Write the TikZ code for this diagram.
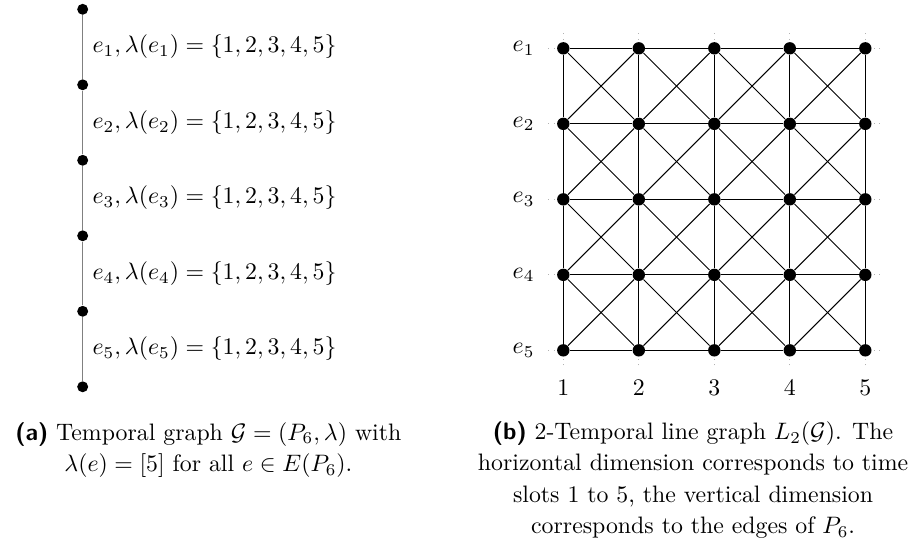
\documentclass[tikz,border=0pt]{standalone}
\usepackage{amsmath,amssymb}
\usetikzlibrary{positioning,calc}

\tikzset{
  vtx/.style={circle,fill=black,inner sep=0pt,minimum size=4.6pt},
  gvtx/.style={circle,fill=black,inner sep=0pt,minimum size=5.2pt},
  capt/.style={align=center,font={\fontsize{10pt}{13.2pt}\selectfont}},
}

\begin{document}
\begin{tikzpicture}[x=1.115cm,y=1.115cm]
  \useasboundingbox (0,0) rectangle (12.159,-7.219);
  % (a) the path P_6 with its labels
  \foreach \k in {1,...,6}
    \node[vtx] (v\k) at (1.095,{-0.123-(\k-1)}) {};
  \foreach \k/\n in {1/2,2/3,3/4,4/5,5/6} {
    \draw[gray,line width=0.6pt] (v\k) -- (v\n);
    \node[anchor=west] (l\k) at ($(v\k)!0.5!(v\n)+(0.02,0)$)
      {$e_{\k}, \lambda(e_{\k}) = \{1,2,3,4,5\}$};
  }
  % (b) the 2-temporal line graph, dotted grid behind
  \draw[gray!60,dotted,shift={(7.461,-0.64)},step=1.115cm] (-0.2,0.2) grid (4.2,-4.2);
  \foreach \i in {1,...,5}
    \foreach \j in {1,...,5}
      \node[gvtx] (g\i\j) at ({7.461+\i-1},{-0.64-(\j-1)}) {};
  \foreach \j in {1,...,5} {
    \node[anchor=east] (r\j) at (7.19,{-0.64-(\j-1)}) {$e_{\j}$};
    \node (c\j) at ({7.461+\j-1},-5.136) {$\j$};
  }
  \foreach \i/\n in {1/2,2/3,3/4,4/5}
    \foreach \j/\m in {1/2,2/3,3/4,4/5} {
      \draw (g\i\j) -- (g\n\j);
      \draw (g\i\j) -- (g\i\m);
      \draw (g\i\j) -- (g\n\m);
      \draw (g\n\j) -- (g\i\m);
    }
  \foreach \k/\n in {1/2,2/3,3/4,4/5} {
    \draw (g\k5) -- (g\n5);
    \draw (g5\k) -- (g5\n);
  }
  % captions
  \node[capt] (capa) at (2.76,-5.96)
    {\textsf{\textbf{(a)}} Temporal graph $\mathcal{G} = (P_6, \lambda)$ with\\
     $\lambda(e) = [5]$ for all $e \in E(P_6)$.};
  \node[capt] (capb) at (9.18,-6.36)
    {\textsf{\textbf{(b)}} 2-Temporal line graph $L_2(\mathcal{G})$. The\\
     horizontal dimension corresponds to time\\
     slots 1 to 5, the vertical dimension\\
     corresponds to the edges of $P_6$.};
\end{tikzpicture}
\end{document}
